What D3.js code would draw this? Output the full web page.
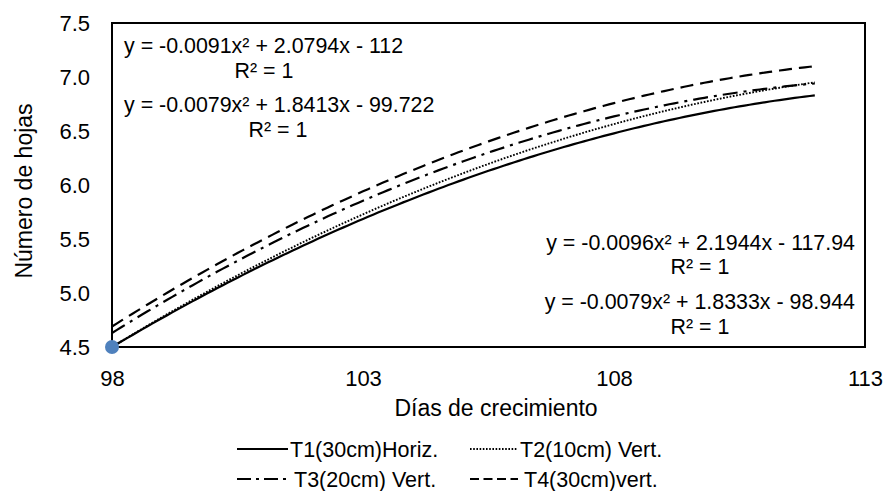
<!DOCTYPE html>
<html>
<head>
<meta charset="utf-8">
<script src="https://cdn.jsdelivr.net/npm/d3@7"></script>
<style>
  html, body { margin: 0; padding: 0; background: #fff; }
  svg text { font-family: "Liberation Sans", Arial, sans-serif; fill: #000; }
</style>
</head>
<body>
<svg id="chart" width="888" height="491"></svg>
<script>
// Measurement days and leaf counts per treatment
const days = [98, 105, 112];
const t1Values = [4.50, 6.05, 6.83];
const t2Values = [4.50, 6.11, 6.95];
const t3Values = [4.63, 6.22, 6.94];
const t4Values = [4.69, 6.32, 7.10];
const seriesNames = ["T1(30cm)Horiz.", "T2(10cm) Vert.", "T3(20cm) Vert.", "T4(30cm)vert."];

// Single visible marker
const markerPoint = [98, 4.5];

// Axis ticks
const xTicks = [98, 103, 108, 113];
const yTicks = [4.5, 5.0, 5.5, 6.0, 6.5, 7.0, 7.5];

// Trendline equation labels
const eqTopLeft = ["y = -0.0091x² + 2.0794x - 112", "R² = 1", "y = -0.0079x² + 1.8413x - 99.722", "R² = 1"];
const eqBottomRight = ["y = -0.0096x² + 2.1944x - 117.94", "R² = 1", "y = -0.0079x² + 1.8333x - 98.944", "R² = 1"];

const svg = d3.select("#chart");
const plot = { left: 112, right: 865, top: 23, bottom: 347 };

const x = d3.scaleLinear().domain([98, 113]).range([plot.left, plot.right]);
const y = d3.scaleLinear().domain([4.5, 7.5]).range([plot.bottom, plot.top]);

// Least-squares quadratic fit (polynomial trendline, order 2)
function quadFit(xs, ys) {
  const n = xs.length;
  let s = [0, 0, 0, 0, 0], t = [0, 0, 0];
  for (let i = 0; i < n; i++) {
    const xv = xs[i];
    for (let k = 0; k <= 4; k++) s[k] += Math.pow(xv, k);
    for (let k = 0; k <= 2; k++) t[k] += ys[i] * Math.pow(xv, k);
  }
  const M = [[s[4], s[3], s[2], t[2]], [s[3], s[2], s[1], t[1]], [s[2], s[1], s[0], t[0]]];
  for (let c = 0; c < 3; c++) {
    let p = c;
    for (let r = c + 1; r < 3; r++) if (Math.abs(M[r][c]) > Math.abs(M[p][c])) p = r;
    [M[c], M[p]] = [M[p], M[c]];
    for (let r = 0; r < 3; r++) {
      if (r === c) continue;
      const f = M[r][c] / M[c][c];
      for (let k = c; k < 4; k++) M[r][k] -= f * M[c][k];
    }
  }
  const a = M[0][3] / M[0][0], b = M[1][3] / M[1][1], c0 = M[2][3] / M[2][2];
  return xv => a * xv * xv + b * xv + c0;
}

const series = [
  { name: seriesNames[0], values: t1Values, dash: null, width: 2.2, legendDash: null },
  { name: seriesNames[1], values: t2Values, dash: "1.7 1.6", width: 1.9, legendDash: "1.6 1.6" },
  { name: seriesNames[2], values: t3Values, dash: "15 6 3 6", width: 2.2, legendDash: "14 5 3 5" },
  { name: seriesNames[3], values: t4Values, dash: "13 7", width: 2.2, legendDash: "9 4.5" }
];

const tickFont = 22;
const titleFont = 23;
const legendFont = 21.5;
const eqFont = 21.4;

// Plot frame
svg.append("rect")
  .attr("x", plot.left).attr("y", plot.top)
  .attr("width", plot.right - plot.left).attr("height", plot.bottom - plot.top)
  .attr("fill", "none").attr("stroke", "#000").attr("stroke-width", 2);

// Axes (labels only, no tick marks)
const xAxis = svg.append("g")
  .attr("transform", `translate(0,${plot.bottom})`)
  .call(d3.axisBottom(x).tickValues(xTicks).tickSize(0).tickPadding(23).tickFormat(d3.format("d")));
xAxis.select(".domain").remove();
xAxis.selectAll("text").attr("font-size", tickFont).attr("font-family", "Liberation Sans, Arial, sans-serif");

const yAxis = svg.append("g")
  .attr("transform", `translate(${plot.left},0)`)
  .call(d3.axisLeft(y).tickValues(yTicks).tickSize(0).tickPadding(22).tickFormat(d3.format(".1f")));
yAxis.select(".domain").remove();
yAxis.selectAll("text").attr("font-size", tickFont).attr("font-family", "Liberation Sans, Arial, sans-serif");

// Axis titles
svg.append("text")
  .attr("x", 496).attr("y", 416)
  .attr("text-anchor", "middle").attr("font-size", titleFont)
  .text("Días de crecimiento");

svg.append("text")
  .attr("transform", `translate(32,191) rotate(-90)`)
  .attr("text-anchor", "middle").attr("font-size", titleFont)
  .text("Número de hojas");

// Trendlines
const line = d3.line().x(d => x(d[0])).y(d => y(d[1]));
series.forEach(s => {
  const f = quadFit(days, s.values);
  const x0 = d3.min(days), x1 = d3.max(days);
  const pts = d3.range(0, 141).map(i => {
    const xv = x0 + (x1 - x0) * i / 140;
    return [xv, f(xv)];
  });
  svg.append("path")
    .attr("d", line(pts))
    .attr("fill", "none")
    .attr("stroke", "#000")
    .attr("stroke-width", s.width)
    .attr("stroke-dasharray", s.dash);
});

// Marker
svg.append("circle")
  .attr("cx", x(markerPoint[0])).attr("cy", y(markerPoint[1]))
  .attr("r", 7).attr("fill", "#4F81BD");

// Equation labels
const eqTL = svg.append("g");
eqTL.append("text").attr("x", 124).attr("y", 53).attr("font-size", eqFont).text(eqTopLeft[0]);
eqTL.append("text").attr("x", 264).attr("y", 78).attr("text-anchor", "middle").attr("font-size", eqFont).text(eqTopLeft[1]);
eqTL.append("text").attr("x", 124).attr("y", 112).attr("font-size", eqFont).text(eqTopLeft[2]);
eqTL.append("text").attr("x", 278).attr("y", 137).attr("text-anchor", "middle").attr("font-size", eqFont).text(eqTopLeft[3]);

const eqBR = svg.append("g");
eqBR.append("text").attr("x", 855).attr("y", 250).attr("text-anchor", "end").attr("font-size", eqFont).text(eqBottomRight[0]);
eqBR.append("text").attr("x", 700).attr("y", 274).attr("text-anchor", "middle").attr("font-size", eqFont).text(eqBottomRight[1]);
eqBR.append("text").attr("x", 855).attr("y", 309).attr("text-anchor", "end").attr("font-size", eqFont).text(eqBottomRight[2]);
eqBR.append("text").attr("x", 700).attr("y", 334).attr("text-anchor", "middle").attr("font-size", eqFont).text(eqBottomRight[3]);

// Legend (2 x 2)
const legendPos = [
  { sx: 237, tx: 290, y: 449 },
  { sx: 470, tx: 520, y: 449 },
  { sx: 237, tx: 294, y: 479 },
  { sx: 470, tx: 524, y: 479 }
];
series.forEach((s, i) => {
  const p = legendPos[i];
  svg.append("line")
    .attr("x1", p.sx).attr("x2", p.sx + (i % 2 === 0 ? 51 : 48))
    .attr("y1", p.y).attr("y2", p.y)
    .attr("stroke", "#000").attr("stroke-width", s.width)
    .attr("stroke-dasharray", s.legendDash);
  svg.append("text")
    .attr("x", p.tx).attr("y", p.y + 8)
    .attr("font-size", legendFont)
    .text(s.name);
});
</script>
</body>
</html>
